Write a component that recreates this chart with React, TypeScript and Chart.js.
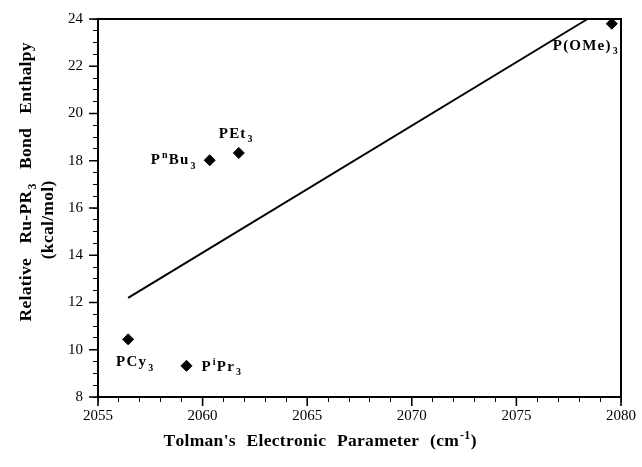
import React, { useEffect, useRef } from 'react';
import { Chart, registerables } from 'chart.js';
Chart.register(...registerables);

// ---- data ----
const ligands = ['PCy3', 'PiPr3', 'PnBu3', 'PEt3', 'P(OMe)3'];
const tep = [2056.44, 2059.23, 2060.34, 2061.73, 2079.56];
const enthalpy = [10.44, 9.32, 18.02, 18.33, 23.8];
const fitX = [2056.44, 2078.4];
const fitY = [12.2, 24.0];
const xMin = 2055, xMax = 2080, xMajorStep = 5;
const yMin = 8, yMax = 24, yMajorStep = 2;

type Seg = [string, '' | 'sub' | 'sup'];
const ligandRich: Seg[][] = [
  [['PCy', ''], ['3', 'sub']],
  [['P', ''], ['i', 'sup'], ['Pr', ''], ['3', 'sub']],
  [['P', ''], ['n', 'sup'], ['Bu', ''], ['3', 'sub']],
  [['PEt', ''], ['3', 'sub']],
  [['P(OMe)', ''], ['3', 'sub']],
];
// label offsets from the marker (left edge, baseline) in px
const labelOffsets = [[-12, 27], [15, 5], [-59, 4], [-20, -15], [-59, 26]];

const yTitle1: Seg[] = [['Relative Ru-PR', ''], ['3', 'sub'], [' Bond Enthalpy', '']];
const yTitle2: Seg[] = [['(kcal/mol)', '']];
const xTitle: Seg[] = [["Tolman's Electronic Parameter (cm", ''], ['-1', 'sup'], [')', '']];

const SERIF = '"Liberation Serif", "Times New Roman", serif';

// manual text layout: per-char letter spacing (ls) and extra word spacing (ws)
function layoutRich(ctx: any, segs: Seg[], size: number, ls: number, ws: number, draw: boolean, x = 0, y = 0) {
  let cx = x;
  ctx.textBaseline = 'alphabetic';
  ctx.textAlign = 'left';
  for (const [t, k] of segs) {
    const sz = k ? Math.round(size * 0.68) : size;
    ctx.font = `bold ${sz}px ${SERIF}`;
    const dy = k === 'sub' ? size * 0.3 : k === 'sup' ? -size * 0.42 : 0;
    if (k) cx += 1;
    for (const ch of t) {
      if (draw && ch !== ' ') ctx.fillText(ch, cx, y + dy);
      cx += ctx.measureText(ch).width + ls + (ch === ' ' ? ws : 0);
    }
  }
  return cx - x - ls;
}
function countSpaces(segs: Seg[]) {
  return segs.reduce((n, [t]) => n + (t.match(/ /g) || []).length, 0);
}
function drawLabel(ctx: any, segs: Seg[], x: number, y: number, size: number, ls: number) {
  layoutRich(ctx, segs, size, ls, 0, true, x, y);
}
// draw text centred at (cx, y); word gaps widened so the total width is `target`
function drawFitted(ctx: any, segs: Seg[], cx: number, y: number, size: number, ls: number, target: number) {
  const natural = layoutRich(ctx, segs, size, ls, 0, false);
  const n = countSpaces(segs);
  const ws = n > 0 && target > natural ? (target - natural) / n : 0;
  const w = layoutRich(ctx, segs, size, ls, ws, false);
  layoutRich(ctx, segs, size, ls, ws, true, cx - w / 2, y);
}

const overlay = {
  id: 'overlay',
  afterDraw(chart: any) {
    const ctx: any = chart.ctx;
    const { left, right, top, bottom } = chart.chartArea;
    const xs = chart.scales.x, ys = chart.scales.y;
    ctx.save();
    ctx.strokeStyle = '#000';
    ctx.fillStyle = '#000';
    // frame top and right
    ctx.lineWidth = 2;
    ctx.beginPath();
    ctx.moveTo(left, top);
    ctx.lineTo(right, top);
    ctx.lineTo(right, bottom);
    ctx.stroke();
    // major ticks
    ctx.lineWidth = 1.6;
    ctx.beginPath();
    for (let v = xMin; v <= xMax; v += xMajorStep) {
      const px = xs.getPixelForValue(v);
      ctx.moveTo(px, bottom - 1);
      ctx.lineTo(px, bottom + 9);
    }
    for (let v = yMin; v <= yMax; v += yMajorStep) {
      const py = ys.getPixelForValue(v);
      ctx.moveTo(left - 9, py);
      ctx.lineTo(left + 1, py);
    }
    ctx.stroke();
    // point labels
    const meta = chart.getDatasetMeta(1);
    meta.data.forEach((pt: any, i: number) => {
      drawLabel(ctx, ligandRich[i], pt.x + labelOffsets[i][0], pt.y + labelOffsets[i][1], 15, 1.2);
    });
    // x title
    drawFitted(ctx, xTitle, 320, 446, 17.5, 0.3, 313);
    // y titles
    ctx.save();
    ctx.translate(31, 182);
    ctx.rotate(-Math.PI / 2);
    drawFitted(ctx, yTitle1, 0, 0, 17.5, 0.3, 279);
    ctx.restore();
    ctx.save();
    ctx.translate(53, 220);
    ctx.rotate(-Math.PI / 2);
    drawFitted(ctx, yTitle2, 0, 0, 17.5, 0.3, 0);
    ctx.restore();
    ctx.restore();
  },
};

export default function App() {
  const ref = useRef<HTMLCanvasElement>(null);
  useEffect(() => {
    const chart = new Chart(ref.current!, {
      type: 'scatter',
      data: {
        datasets: [
          {
            type: 'line',
            data: fitX.map((x, i) => ({ x, y: fitY[i] })),
            borderColor: '#000',
            borderWidth: 2,
            pointRadius: 0,
            fill: false,
          },
          {
            data: tep.map((x, i) => ({ x, y: enthalpy[i] })),
            pointStyle: 'rectRot',
            pointRadius: 5.5,
            backgroundColor: '#000',
            borderColor: '#000',
            borderWidth: 1,
          },
        ],
      } as any,
      options: {
        animation: false,
        responsive: false,
        clip: false as any,
        layout: { padding: { top: 18, right: 21, left: 0, bottom: 0 } },
        plugins: { legend: { display: false }, tooltip: { enabled: false } },
        scales: {
          x: {
            type: 'linear',
            min: xMin,
            max: xMax,
            afterFit: (s: any) => { s.height = 70; },
            ticks: {
              stepSize: 1,
              autoSkip: false,
              maxRotation: 0,
              padding: 5,
              color: '#000',
              font: { family: SERIF, size: 15 },
              callback: (v: any) => (Number(v) % xMajorStep === 0 ? String(v) : ''),
            },
            grid: { drawOnChartArea: false, drawTicks: true, tickLength: 5, color: '#000', lineWidth: 1 },
            border: { display: true, color: '#000', width: 2 },
          },
          y: {
            type: 'linear',
            min: yMin,
            max: yMax,
            afterFit: (s: any) => { s.width = 98; },
            ticks: {
              stepSize: 0.5,
              autoSkip: false,
              padding: 10,
              color: '#000',
              font: { family: SERIF, size: 15 },
              callback: (v: any) => (Number(v) % yMajorStep === 0 ? String(v) : ''),
            },
            grid: { drawOnChartArea: false, drawTicks: true, tickLength: 5, color: '#000', lineWidth: 1 },
            border: { display: true, color: '#000', width: 2 },
          },
        },
      },
      plugins: [overlay],
    });
    return () => chart.destroy();
  }, []);
  return (
    <div style={{ position: 'absolute', left: 0, top: 0, width: 642, height: 467, background: '#fff' }}>
      <canvas ref={ref} width={642} height={467} style={{ width: 642, height: 467 }} />
    </div>
  );
}
